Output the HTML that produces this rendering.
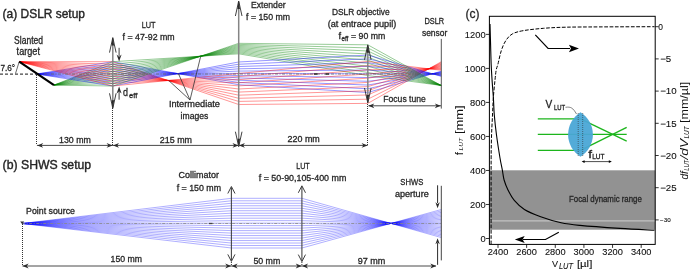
<!DOCTYPE html>
<html><head><meta charset="utf-8"><style>
html,body{margin:0;padding:0;background:#fff;}
body{width:691px;height:270px;overflow:hidden;}
svg{display:block;will-change:transform;}
text{font-family:"Liberation Sans",sans-serif;}
</style></head><body>
<svg width="691" height="270" viewBox="0 0 691 270">
<polyline points="36.7,74 112.8,61.7 238.7,84.75 367.8,92.52 441.3,71.2" fill="none" stroke="#0000ff" stroke-width="0.75" stroke-opacity="0.55"/>
<polyline points="19.2,61.7 112.8,61.7 238.7,104.5 367.8,103.39 441.3,61.7" fill="none" stroke="#ff0000" stroke-width="0.75" stroke-opacity="0.55"/>
<polyline points="54,85.1 112.8,61.7 238.7,53.82 367.8,75.52 441.3,85.5" fill="none" stroke="#008000" stroke-width="0.75" stroke-opacity="0.55"/>
<polyline points="36.7,74 112.8,64.13 238.7,82.47 367.8,88.78 441.3,71.72" fill="none" stroke="#0000ff" stroke-width="0.75" stroke-opacity="0.55"/>
<polyline points="19.2,61.7 112.8,64.13 238.7,101.4 367.8,99.19 441.3,62.56" fill="none" stroke="#ff0000" stroke-width="0.75" stroke-opacity="0.55"/>
<polyline points="54,85.1 112.8,64.13 238.7,52.77 367.8,72.45 441.3,85.5" fill="none" stroke="#008000" stroke-width="0.75" stroke-opacity="0.55"/>
<polyline points="36.7,74 112.8,66.56 238.7,80.2 367.8,85.04 441.3,72.24" fill="none" stroke="#0000ff" stroke-width="0.75" stroke-opacity="0.55"/>
<polyline points="19.2,61.7 112.8,66.56 238.7,98.3 367.8,94.99 441.3,63.42" fill="none" stroke="#ff0000" stroke-width="0.75" stroke-opacity="0.55"/>
<polyline points="54,85.1 112.8,66.56 238.7,51.72 367.8,69.38 441.3,85.5" fill="none" stroke="#008000" stroke-width="0.75" stroke-opacity="0.55"/>
<polyline points="36.7,74 112.8,68.99 238.7,77.92 367.8,81.29 441.3,72.76" fill="none" stroke="#0000ff" stroke-width="0.75" stroke-opacity="0.55"/>
<polyline points="19.2,61.7 112.8,68.99 238.7,95.19 367.8,90.79 441.3,64.28" fill="none" stroke="#ff0000" stroke-width="0.75" stroke-opacity="0.55"/>
<polyline points="54,85.1 112.8,68.99 238.7,50.67 367.8,66.31 441.3,85.5" fill="none" stroke="#008000" stroke-width="0.75" stroke-opacity="0.55"/>
<polyline points="36.7,74 112.8,71.42 238.7,75.64 367.8,77.55 441.3,73.28" fill="none" stroke="#0000ff" stroke-width="0.75" stroke-opacity="0.55"/>
<polyline points="19.2,61.7 112.8,71.42 238.7,92.09 367.8,86.6 441.3,65.14" fill="none" stroke="#ff0000" stroke-width="0.75" stroke-opacity="0.55"/>
<polyline points="54,85.1 112.8,71.42 238.7,49.62 367.8,63.24 441.3,85.5" fill="none" stroke="#008000" stroke-width="0.75" stroke-opacity="0.55"/>
<polyline points="36.7,74 112.8,73.85 238.7,73.37 367.8,73.8 441.3,73.8" fill="none" stroke="#0000ff" stroke-width="0.75" stroke-opacity="0.55"/>
<polyline points="19.2,61.7 112.8,73.85 238.7,88.99 367.8,82.4 441.3,66" fill="none" stroke="#ff0000" stroke-width="0.75" stroke-opacity="0.55"/>
<polyline points="54,85.1 112.8,73.85 238.7,48.57 367.8,60.17 441.3,85.5" fill="none" stroke="#008000" stroke-width="0.75" stroke-opacity="0.55"/>
<polyline points="36.7,74 112.8,76.28 238.7,71.09 367.8,70.06 441.3,74.32" fill="none" stroke="#0000ff" stroke-width="0.75" stroke-opacity="0.55"/>
<polyline points="19.2,61.7 112.8,76.28 238.7,85.89 367.8,78.2 441.3,66.86" fill="none" stroke="#ff0000" stroke-width="0.75" stroke-opacity="0.55"/>
<polyline points="54,85.1 112.8,76.28 238.7,47.52 367.8,57.1 441.3,85.5" fill="none" stroke="#008000" stroke-width="0.75" stroke-opacity="0.55"/>
<polyline points="36.7,74 112.8,78.71 238.7,68.81 367.8,66.32 441.3,74.84" fill="none" stroke="#0000ff" stroke-width="0.75" stroke-opacity="0.55"/>
<polyline points="19.2,61.7 112.8,78.71 238.7,82.79 367.8,74 441.3,67.72" fill="none" stroke="#ff0000" stroke-width="0.75" stroke-opacity="0.55"/>
<polyline points="54,85.1 112.8,78.71 238.7,46.47 367.8,54.03 441.3,85.5" fill="none" stroke="#008000" stroke-width="0.75" stroke-opacity="0.55"/>
<polyline points="36.7,74 112.8,81.14 238.7,66.54 367.8,62.57 441.3,75.36" fill="none" stroke="#0000ff" stroke-width="0.75" stroke-opacity="0.55"/>
<polyline points="19.2,61.7 112.8,81.14 238.7,79.68 367.8,69.8 441.3,68.58" fill="none" stroke="#ff0000" stroke-width="0.75" stroke-opacity="0.55"/>
<polyline points="54,85.1 112.8,81.14 238.7,45.42 367.8,50.96 441.3,85.5" fill="none" stroke="#008000" stroke-width="0.75" stroke-opacity="0.55"/>
<polyline points="36.7,74 112.8,83.57 238.7,64.26 367.8,58.83 441.3,75.88" fill="none" stroke="#0000ff" stroke-width="0.75" stroke-opacity="0.55"/>
<polyline points="19.2,61.7 112.8,83.57 238.7,76.58 367.8,65.61 441.3,69.44" fill="none" stroke="#ff0000" stroke-width="0.75" stroke-opacity="0.55"/>
<polyline points="54,85.1 112.8,83.57 238.7,44.37 367.8,47.89 441.3,85.5" fill="none" stroke="#008000" stroke-width="0.75" stroke-opacity="0.55"/>
<polyline points="36.7,74 112.8,86 238.7,61.98 367.8,55.09 441.3,76.4" fill="none" stroke="#0000ff" stroke-width="0.75" stroke-opacity="0.55"/>
<polyline points="19.2,61.7 112.8,86 238.7,73.48 367.8,61.41 441.3,70.3" fill="none" stroke="#ff0000" stroke-width="0.75" stroke-opacity="0.55"/>
<polyline points="54,85.1 112.8,86 238.7,43.32 367.8,44.82 441.3,85.5" fill="none" stroke="#008000" stroke-width="0.75" stroke-opacity="0.55"/>
<polyline points="22.2,223.5 231.4,198.3 301.9,198.3 441.3,237.57" fill="none" stroke="#0000ff" stroke-width="0.7" stroke-opacity="0.45"/>
<polyline points="22.2,223.5 231.4,200.79 301.9,200.79 441.3,236.17" fill="none" stroke="#0000ff" stroke-width="0.7" stroke-opacity="0.45"/>
<polyline points="22.2,223.5 231.4,203.27 301.9,203.27 441.3,234.76" fill="none" stroke="#0000ff" stroke-width="0.7" stroke-opacity="0.45"/>
<polyline points="22.2,223.5 231.4,205.75 301.9,205.75 441.3,233.36" fill="none" stroke="#0000ff" stroke-width="0.7" stroke-opacity="0.45"/>
<polyline points="22.2,223.5 231.4,208.24 301.9,208.24 441.3,231.96" fill="none" stroke="#0000ff" stroke-width="0.7" stroke-opacity="0.45"/>
<polyline points="22.2,223.5 231.4,210.73 301.9,210.73 441.3,230.56" fill="none" stroke="#0000ff" stroke-width="0.7" stroke-opacity="0.45"/>
<polyline points="22.2,223.5 231.4,213.21 301.9,213.21 441.3,229.15" fill="none" stroke="#0000ff" stroke-width="0.7" stroke-opacity="0.45"/>
<polyline points="22.2,223.5 231.4,215.69 301.9,215.69 441.3,227.75" fill="none" stroke="#0000ff" stroke-width="0.7" stroke-opacity="0.45"/>
<polyline points="22.2,223.5 231.4,218.18 301.9,218.18 441.3,226.35" fill="none" stroke="#0000ff" stroke-width="0.7" stroke-opacity="0.45"/>
<polyline points="22.2,223.5 231.4,220.67 301.9,220.67 441.3,224.94" fill="none" stroke="#0000ff" stroke-width="0.7" stroke-opacity="0.45"/>
<polyline points="22.2,223.5 231.4,223.15 301.9,223.15 441.3,223.54" fill="none" stroke="#0000ff" stroke-width="0.7" stroke-opacity="0.45"/>
<polyline points="22.2,223.5 231.4,225.63 301.9,225.63 441.3,222.14" fill="none" stroke="#0000ff" stroke-width="0.7" stroke-opacity="0.45"/>
<polyline points="22.2,223.5 231.4,228.12 301.9,228.12 441.3,220.74" fill="none" stroke="#0000ff" stroke-width="0.7" stroke-opacity="0.45"/>
<polyline points="22.2,223.5 231.4,230.61 301.9,230.61 441.3,219.33" fill="none" stroke="#0000ff" stroke-width="0.7" stroke-opacity="0.45"/>
<polyline points="22.2,223.5 231.4,233.09 301.9,233.09 441.3,217.93" fill="none" stroke="#0000ff" stroke-width="0.7" stroke-opacity="0.45"/>
<polyline points="22.2,223.5 231.4,235.57 301.9,235.57 441.3,216.53" fill="none" stroke="#0000ff" stroke-width="0.7" stroke-opacity="0.45"/>
<polyline points="22.2,223.5 231.4,238.06 301.9,238.06 441.3,215.12" fill="none" stroke="#0000ff" stroke-width="0.7" stroke-opacity="0.45"/>
<polyline points="22.2,223.5 231.4,240.55 301.9,240.55 441.3,213.72" fill="none" stroke="#0000ff" stroke-width="0.7" stroke-opacity="0.45"/>
<polyline points="22.2,223.5 231.4,243.03 301.9,243.03 441.3,212.32" fill="none" stroke="#0000ff" stroke-width="0.7" stroke-opacity="0.45"/>
<polyline points="22.2,223.5 231.4,245.51 301.9,245.51 441.3,210.92" fill="none" stroke="#0000ff" stroke-width="0.7" stroke-opacity="0.45"/>
<polyline points="22.2,223.5 231.4,248 301.9,248 441.3,209.51" fill="none" stroke="#0000ff" stroke-width="0.7" stroke-opacity="0.45"/>
<line x1="37" y1="74" x2="441" y2="74" stroke="#666" stroke-width="0.8" stroke-dasharray="3,1.5,1,1.5"/>
<line x1="314" y1="74" x2="317.5" y2="74" stroke="#333" stroke-width="1.6" />
<line x1="325.5" y1="74" x2="329" y2="74" stroke="#333" stroke-width="1.6" />
<line x1="0" y1="74.1" x2="36.7" y2="74.1" stroke="#444" stroke-width="1.2" stroke-dasharray="3,2"/>
<line x1="15.5" y1="73.5" x2="19.2" y2="61.7" stroke="#444" stroke-width="0.8" />
<line x1="19.2" y1="61.7" x2="54" y2="85.1" stroke="#000" stroke-width="2.2" />
<line x1="36.5" y1="75" x2="36.5" y2="145" stroke="#333" stroke-width="1" stroke-dasharray="1,1"/>
<line x1="112.5" y1="108" x2="112.5" y2="145" stroke="#333" stroke-width="1" stroke-dasharray="1,1"/>
<line x1="367.5" y1="104" x2="367.5" y2="145" stroke="#333" stroke-width="1" stroke-dasharray="1,1"/>
<line x1="112.8" y1="38.6" x2="112.8" y2="107.3" stroke="#858585" stroke-width="1.5" />
<polyline points="109.5,52.6 112.8,37.6 116.1,52.6" fill="none" stroke="#2a2a2a" stroke-width="0.9" />
<polyline points="109.5,93.3 112.8,108.3 116.1,93.3" fill="none" stroke="#2a2a2a" stroke-width="0.9" />
<polygon points="112.8,37.6 111.5,45.6 114.1,45.6" fill="#2a2a2a" />
<polygon points="112.8,108.3 111.5,100.3 114.1,100.3" fill="#2a2a2a" />
<line x1="238.7" y1="2" x2="238.7" y2="145.7" stroke="#858585" stroke-width="1.5" />
<polyline points="235.4,16 238.7,1 242,16" fill="none" stroke="#2a2a2a" stroke-width="0.9" />
<polyline points="235.4,131.7 238.7,146.7 242,131.7" fill="none" stroke="#2a2a2a" stroke-width="0.9" />
<polygon points="238.7,1 237.4,9 240,9" fill="#2a2a2a" />
<polygon points="238.7,146.7 237.4,138.7 240,138.7" fill="#2a2a2a" />
<line x1="367.8" y1="45.8" x2="367.8" y2="102" stroke="#858585" stroke-width="1.5" />
<polyline points="364.5,59.8 367.8,44.8 371.1,59.8" fill="none" stroke="#2a2a2a" stroke-width="0.9" />
<polyline points="364.5,88 367.8,103 371.1,88" fill="none" stroke="#2a2a2a" stroke-width="0.9" />
<polygon points="367.8,44.8 366.5,52.8 369.1,52.8" fill="#2a2a2a" />
<polygon points="367.8,103 366.5,95 369.1,95" fill="#2a2a2a" />
<line x1="441.3" y1="38.9" x2="441.3" y2="108.6" stroke="#555" stroke-width="1" />
<line x1="119.1" y1="47.8" x2="119.1" y2="56" stroke="#2a2a2a" stroke-width="0.9" />
<polygon points="119.1,61.6 116.6,54.6 119.1,56.7 121.6,54.6" fill="#2a2a2a" />
<line x1="119.1" y1="99.7" x2="119.1" y2="92" stroke="#2a2a2a" stroke-width="0.9" />
<polygon points="119.1,86.6 121.6,93.6 119.1,91.5 116.6,93.6" fill="#2a2a2a" />
<line x1="36.9" y1="145.4" x2="367.6" y2="145.4" stroke="#4a4a4a" stroke-width="1" />
<polygon points="37.2,145.4 43.2,143 41.4,145.4 43.2,147.8" fill="#2a2a2a" />
<polygon points="112.6,145.4 106.6,147.8 108.4,145.4 106.6,143" fill="#2a2a2a" />
<polygon points="113,145.4 119,143 117.2,145.4 119,147.8" fill="#2a2a2a" />
<polygon points="238.5,145.4 232.5,147.8 234.3,145.4 232.5,143" fill="#2a2a2a" />
<polygon points="238.9,145.4 244.9,143 243.1,145.4 244.9,147.8" fill="#2a2a2a" />
<polygon points="367.6,145.4 361.6,147.8 363.4,145.4 361.6,143" fill="#2a2a2a" />
<line x1="368.5" y1="105.8" x2="441" y2="105.8" stroke="#4a4a4a" stroke-width="1" />
<polygon points="368.3,105.8 374.3,103.4 372.5,105.8 374.3,108.2" fill="#2a2a2a" />
<polygon points="440.8,105.8 434.8,108.2 436.6,105.8 434.8,103.4" fill="#2a2a2a" />
<line x1="190" y1="100" x2="168.5" y2="80.3" stroke="#333" stroke-width="0.8" />
<line x1="190" y1="100" x2="178.5" y2="73.8" stroke="#333" stroke-width="0.8" />
<line x1="190" y1="100" x2="200.5" y2="57" stroke="#333" stroke-width="0.8" />
<line x1="22.2" y1="223.5" x2="441.3" y2="223.5" stroke="#888" stroke-width="0.8" stroke-dasharray="3,1.5,1,1.5"/>
<line x1="209" y1="223.5" x2="212.5" y2="223.5" stroke="#444" stroke-width="1.3" />
<polygon points="20.2,221.6 24.2,221.6 22.2,224.2" fill="#333" />
<line x1="22.5" y1="224" x2="22.5" y2="266" stroke="#333" stroke-width="1" stroke-dasharray="1,1"/>
<line x1="231.4" y1="187.5" x2="231.4" y2="260.4" stroke="#444" stroke-width="1.1" />
<polyline points="227.8,193.5 231.4,186.5 235,193.5" fill="none" stroke="#2a2a2a" stroke-width="0.9" />
<polyline points="227.8,254.4 231.4,261.4 235,254.4" fill="none" stroke="#2a2a2a" stroke-width="0.9" />
<line x1="301.9" y1="186.8" x2="301.9" y2="260.6" stroke="#444" stroke-width="1.1" />
<polyline points="298.3,192.8 301.9,185.8 305.5,192.8" fill="none" stroke="#2a2a2a" stroke-width="0.9" />
<polyline points="298.3,254.6 301.9,261.6 305.5,254.6" fill="none" stroke="#2a2a2a" stroke-width="0.9" />
<line x1="437.6" y1="185.3" x2="437.6" y2="203" stroke="#2a2a2a" stroke-width="1" />
<polygon points="437.6,208.3 435.4,202.3 437.6,204.1 439.8,202.3" fill="#2a2a2a" />
<line x1="437.6" y1="264.8" x2="437.6" y2="243" stroke="#2a2a2a" stroke-width="1" />
<polygon points="437.6,238.3 439.8,244.3 437.6,242.5 435.4,244.3" fill="#2a2a2a" />
<line x1="441.3" y1="185.8" x2="441.3" y2="260.4" stroke="#444" stroke-width="1" />
<line x1="22.4" y1="266" x2="436" y2="266" stroke="#4a4a4a" stroke-width="1" />
<polygon points="22.6,266 28.6,263.6 26.8,266 28.6,268.4" fill="#2a2a2a" />
<polygon points="231.2,266 225.2,268.4 227,266 225.2,263.6" fill="#2a2a2a" />
<polygon points="231.6,266 237.6,263.6 235.8,266 237.6,268.4" fill="#2a2a2a" />
<polygon points="301.7,266 295.7,268.4 297.5,266 295.7,263.6" fill="#2a2a2a" />
<polygon points="302.1,266 308.1,263.6 306.3,266 308.1,268.4" fill="#2a2a2a" />
<polygon points="436.3,266 430.3,268.4 432.1,266 430.3,263.6" fill="#2a2a2a" />
<line x1="231.4" y1="262" x2="231.4" y2="266" stroke="#333" stroke-width="1" stroke-dasharray="1,1"/>
<line x1="301.9" y1="262" x2="301.9" y2="266" stroke="#333" stroke-width="1" stroke-dasharray="1,1"/>
<rect x="489.4" y="170.3" width="165.80000000000007" height="59.39999999999998" fill="#929292"/>
<line x1="489.4" y1="220.8" x2="655.2" y2="220.8" stroke="#c2c2c2" stroke-width="1.3" />
<path d="M490,24 C490.1,27.5 490.4,38.17 490.6,45 C490.8,51.83 490.93,58.83 491.2,65 C491.47,71.17 491.83,76.5 492.2,82 C492.57,87.5 493.05,92.5 493.4,98 C493.75,103.5 493.78,108.83 494.3,115 C494.82,121.17 495.55,127.83 496.5,135 C497.45,142.17 499.02,152.1 500,158 C500.98,163.9 501.72,166.73 502.4,170.4 C503.08,174.07 503.15,176.7 504.1,180 C505.05,183.3 506.4,186.8 508.1,190.2 C509.8,193.6 511.58,197.18 514.3,200.4 C517.02,203.62 520,206.78 524.4,209.5 C528.8,212.22 534.58,214.48 540.7,216.7 C546.82,218.92 554.55,221.35 561.1,222.8 C567.65,224.25 570.18,224.47 580,225.4 C589.82,226.33 607.58,227.58 620,228.4 C632.42,229.22 648.75,229.98 654.5,230.3" fill="none" stroke="#000" stroke-width="1.1"/>
<path d="M491.1,244 C491.1,231.67 491.05,187.33 491.1,170 C491.15,152.67 491.17,149.17 491.4,140 C491.63,130.83 492.17,122.17 492.5,115 C492.83,107.83 492.98,102.83 493.4,97 C493.82,91.17 494.53,84.5 495,80 C495.47,75.5 495.7,72.68 496.2,70 C496.7,67.32 497.15,67.13 498,63.9 C498.85,60.67 500,54.48 501.3,50.6 C502.6,46.72 503.95,43.38 505.8,40.6 C507.65,37.82 509.43,35.57 512.4,33.9 C515.37,32.23 518.4,31.53 523.6,30.6 C528.8,29.67 536.57,28.87 543.6,28.3 C550.63,27.73 556.4,27.43 565.8,27.2 C575.2,26.97 585.22,26.98 600,26.9 C614.78,26.82 645.42,26.73 654.5,26.7" fill="none" stroke="#000" stroke-width="1.0" stroke-dasharray="3.7,1.6"/>
<rect x="489.4" y="16.3" width="165.80000000000007" height="228.1" fill="none" stroke="#000" stroke-width="1"/>
<line x1="485.9" y1="238.5" x2="489.4" y2="238.5" stroke="#000" stroke-width="0.8" />
<line x1="485.9" y1="204.48" x2="489.4" y2="204.48" stroke="#000" stroke-width="0.8" />
<line x1="485.9" y1="170.46" x2="489.4" y2="170.46" stroke="#000" stroke-width="0.8" />
<line x1="485.9" y1="136.44" x2="489.4" y2="136.44" stroke="#000" stroke-width="0.8" />
<line x1="485.9" y1="102.42" x2="489.4" y2="102.42" stroke="#000" stroke-width="0.8" />
<line x1="485.9" y1="68.4" x2="489.4" y2="68.4" stroke="#000" stroke-width="0.8" />
<line x1="485.9" y1="34.38" x2="489.4" y2="34.38" stroke="#000" stroke-width="0.8" />
<line x1="655.2" y1="26.7" x2="658.7" y2="26.7" stroke="#000" stroke-width="0.8" />
<line x1="655.2" y1="58.9" x2="658.7" y2="58.9" stroke="#000" stroke-width="0.8" />
<line x1="655.2" y1="91.1" x2="658.7" y2="91.1" stroke="#000" stroke-width="0.8" />
<line x1="655.2" y1="123.3" x2="658.7" y2="123.3" stroke="#000" stroke-width="0.8" />
<line x1="655.2" y1="155.5" x2="658.7" y2="155.5" stroke="#000" stroke-width="0.8" />
<line x1="655.2" y1="187.7" x2="658.7" y2="187.7" stroke="#000" stroke-width="0.8" />
<line x1="655.2" y1="219.9" x2="658.7" y2="219.9" stroke="#000" stroke-width="0.8" />
<line x1="498" y1="244.4" x2="498" y2="247.9" stroke="#000" stroke-width="0.8" />
<line x1="526.64" y1="244.4" x2="526.64" y2="247.9" stroke="#000" stroke-width="0.8" />
<line x1="555.28" y1="244.4" x2="555.28" y2="247.9" stroke="#000" stroke-width="0.8" />
<line x1="583.92" y1="244.4" x2="583.92" y2="247.9" stroke="#000" stroke-width="0.8" />
<line x1="612.56" y1="244.4" x2="612.56" y2="247.9" stroke="#000" stroke-width="0.8" />
<line x1="641.2" y1="244.4" x2="641.2" y2="247.9" stroke="#000" stroke-width="0.8" />
<polyline points="535.3,34.8 548.1,48.5 570,48.5" fill="none" stroke="#000" stroke-width="1.2" />
<polygon points="579,48.5 568.9,44.7 571,48.5 568.9,52.3" fill="#000" />
<polyline points="558.8,232.2 545.5,239.5 523,239.5" fill="none" stroke="#000" stroke-width="1.2" />
<polygon points="514.8,239.5 524.7,235.9 522.6,239.5 524.7,243.1" fill="#000" />
<line x1="537.8" y1="118.9" x2="580.5" y2="118.9" stroke="#1cb51c" stroke-width="1.3" />
<line x1="537.8" y1="134.4" x2="626.7" y2="134.4" stroke="#1cb51c" stroke-width="1.3" />
<line x1="537.8" y1="150.4" x2="580.5" y2="150.4" stroke="#1cb51c" stroke-width="1.3" />
<line x1="580.5" y1="118.9" x2="626.7" y2="141.1" stroke="#1cb51c" stroke-width="1.3" />
<line x1="580.5" y1="150.4" x2="626.7" y2="127.3" stroke="#1cb51c" stroke-width="1.3" />
<path d="M580.5,112.2 A26.25,26.25 0 0 1 580.5,156.8 A26.25,26.25 0 0 1 580.5,112.2 Z" fill="#4aa6d6" fill-opacity="0.95"/>
<line x1="578.2" y1="113" x2="578.2" y2="156" stroke="#333" stroke-width="0.6" stroke-dasharray="1,1"/>
<line x1="582.7" y1="113" x2="582.7" y2="156" stroke="#333" stroke-width="0.6" stroke-dasharray="1,1"/>
<path d="M565.5,107.3 C571,106.5 573,108 576.5,114" fill="none" stroke="#333" stroke-width="0.6"/>
<line x1="583" y1="161.6" x2="610.5" y2="161.6" stroke="#000" stroke-width="0.7" />
<polygon points="581.6,161.6 584.6,160.3 584.6,162.9" fill="#000" />
<polygon points="611.8,161.6 608.8,160.3 608.8,162.9" fill="#000" />
<text x="2.6" y="17.6" font-size="12.52" textLength="82.4" lengthAdjust="spacingAndGlyphs" fill="#262626" stroke="#262626" stroke-width="0.4" >(a) DSLR setup</text>
<text x="14.1" y="43.5" font-size="10.06" textLength="28.9" lengthAdjust="spacingAndGlyphs" fill="#262626" stroke="#262626" stroke-width="0.3" >Slanted</text>
<text x="16.6" y="55.4" font-size="10.06" textLength="23.4" lengthAdjust="spacingAndGlyphs" fill="#262626" stroke="#262626" stroke-width="0.3" >target</text>
<text x="141.7" y="27.7" font-size="9.2" textLength="13.9" lengthAdjust="spacingAndGlyphs" fill="#262626" stroke="#262626" stroke-width="0.3" >LUT</text>
<text x="122.6" y="39.9" font-size="9.2" textLength="52.1" lengthAdjust="spacingAndGlyphs" fill="#262626" stroke="#262626" stroke-width="0.3" >f = 47-92 mm</text>
<text x="123" y="96" font-size="11.34" textLength="5" lengthAdjust="spacingAndGlyphs" fill="#262626" stroke="#262626" stroke-width="0.3" >d</text>
<text x="129" y="98.3" font-size="7.81" textLength="8.3" lengthAdjust="spacingAndGlyphs" fill="#262626" stroke="#262626" stroke-width="0.3" >eff</text>
<text x="168.9" y="106.7" font-size="9.2" textLength="51.1" lengthAdjust="spacingAndGlyphs" fill="#262626" stroke="#262626" stroke-width="0.3" >Intermediate</text>
<text x="180.6" y="118.9" font-size="9.2" textLength="27.7" lengthAdjust="spacingAndGlyphs" fill="#262626" stroke="#262626" stroke-width="0.3" >images</text>
<text x="250.9" y="7.8" font-size="9.2" textLength="34.7" lengthAdjust="spacingAndGlyphs" fill="#262626" stroke="#262626" stroke-width="0.3" >Extender</text>
<text x="246.1" y="20" font-size="9.2" textLength="43.9" lengthAdjust="spacingAndGlyphs" fill="#262626" stroke="#262626" stroke-width="0.3" >f = 150 mm</text>
<text x="331.9" y="14.6" font-size="9.2" textLength="57.7" lengthAdjust="spacingAndGlyphs" fill="#262626" stroke="#262626" stroke-width="0.3" >DSLR objective</text>
<text x="327.7" y="27.2" font-size="9.2" textLength="68.6" lengthAdjust="spacingAndGlyphs" fill="#262626" stroke="#262626" stroke-width="0.3" >(at entrace pupil)</text>
<text x="338.6" y="38.9" font-size="9.63" textLength="2.6" lengthAdjust="spacingAndGlyphs" fill="#262626" stroke="#262626" stroke-width="0.3" >f</text>
<text x="341.5" y="40.7" font-size="7.06" textLength="6.8" lengthAdjust="spacingAndGlyphs" fill="#262626" stroke="#262626" stroke-width="0.3" >eff</text>
<text x="351" y="38.9" font-size="9.2" textLength="34.2" lengthAdjust="spacingAndGlyphs" fill="#262626" stroke="#262626" stroke-width="0.3" >= 90 mm</text>
<text x="424.4" y="23.6" font-size="9.42" textLength="19.7" lengthAdjust="spacingAndGlyphs" fill="#262626" stroke="#262626" stroke-width="0.3" >DSLR</text>
<text x="421.9" y="35.5" font-size="9.42" textLength="25.5" lengthAdjust="spacingAndGlyphs" fill="#262626" stroke="#262626" stroke-width="0.3" >sensor</text>
<text x="0.4" y="71.4" font-size="9.63" textLength="14.7" lengthAdjust="spacingAndGlyphs" fill="#262626" stroke="#262626" stroke-width="0.3" >7.6°</text>
<text x="383.3" y="101.9" font-size="9.63" textLength="42.5" lengthAdjust="spacingAndGlyphs" fill="#262626" stroke="#262626" stroke-width="0.3" >Focus tune</text>
<text x="59" y="142.8" font-size="8.77" textLength="31.8" lengthAdjust="spacingAndGlyphs" fill="#262626" stroke="#262626" stroke-width="0.3" >130 mm</text>
<text x="159.8" y="142.8" font-size="8.77" textLength="32.2" lengthAdjust="spacingAndGlyphs" fill="#262626" stroke="#262626" stroke-width="0.3" >215 mm</text>
<text x="287.5" y="142.1" font-size="8.77" textLength="32.3" lengthAdjust="spacingAndGlyphs" fill="#262626" stroke="#262626" stroke-width="0.3" >220 mm</text>
<text x="2.6" y="168.8" font-size="12.52" textLength="88.6" lengthAdjust="spacingAndGlyphs" fill="#262626" stroke="#262626" stroke-width="0.4" >(b) SHWS setup</text>
<text x="26.1" y="213.9" font-size="8.99" textLength="48.9" lengthAdjust="spacingAndGlyphs" fill="#262626" stroke="#262626" stroke-width="0.3" >Point source</text>
<text x="178.6" y="178" font-size="8.99" textLength="40.3" lengthAdjust="spacingAndGlyphs" fill="#262626" stroke="#262626" stroke-width="0.3" >Collimator</text>
<text x="176.7" y="190.5" font-size="8.99" textLength="44.4" lengthAdjust="spacingAndGlyphs" fill="#262626" stroke="#262626" stroke-width="0.3" >f = 150 mm</text>
<text x="296.2" y="169" font-size="8.99" textLength="13.5" lengthAdjust="spacingAndGlyphs" fill="#262626" stroke="#262626" stroke-width="0.3" >LUT</text>
<text x="258.8" y="181.3" font-size="8.99" textLength="87.5" lengthAdjust="spacingAndGlyphs" fill="#262626" stroke="#262626" stroke-width="0.3" >f = 50-90,105-400 mm</text>
<text x="400.3" y="185" font-size="8.99" textLength="23" lengthAdjust="spacingAndGlyphs" fill="#262626" stroke="#262626" stroke-width="0.3" >SHWS</text>
<text x="395" y="196.7" font-size="8.99" textLength="33.7" lengthAdjust="spacingAndGlyphs" fill="#262626" stroke="#262626" stroke-width="0.3" >aperture</text>
<text x="110.6" y="262.2" font-size="8.99" textLength="31.4" lengthAdjust="spacingAndGlyphs" fill="#262626" stroke="#262626" stroke-width="0.3" >150 mm</text>
<text x="253.4" y="263.7" font-size="8.99" textLength="26.9" lengthAdjust="spacingAndGlyphs" fill="#262626" stroke="#262626" stroke-width="0.3" >50 mm</text>
<text x="357.8" y="263.6" font-size="8.99" textLength="27.6" lengthAdjust="spacingAndGlyphs" fill="#262626" stroke="#262626" stroke-width="0.3" >97 mm</text>
<text x="465.6" y="17.8" font-size="12.8" textLength="14" lengthAdjust="spacingAndGlyphs" fill="#262626" stroke="#262626" stroke-width="0.3" >(c)</text>
<text x="480.4" y="241.7" font-size="9" textLength="5.2" lengthAdjust="spacingAndGlyphs" fill="#111" stroke="#111" stroke-width="0.1" >0</text>
<text x="470" y="207.68" font-size="9" textLength="15.6" lengthAdjust="spacingAndGlyphs" fill="#111" stroke="#111" stroke-width="0.1" >200</text>
<text x="470" y="173.66" font-size="9" textLength="15.6" lengthAdjust="spacingAndGlyphs" fill="#111" stroke="#111" stroke-width="0.1" >400</text>
<text x="470" y="139.64" font-size="9" textLength="15.6" lengthAdjust="spacingAndGlyphs" fill="#111" stroke="#111" stroke-width="0.1" >600</text>
<text x="470" y="105.62" font-size="9" textLength="15.6" lengthAdjust="spacingAndGlyphs" fill="#111" stroke="#111" stroke-width="0.1" >800</text>
<text x="464.8" y="71.6" font-size="9" textLength="20.8" lengthAdjust="spacingAndGlyphs" fill="#111" stroke="#111" stroke-width="0.1" >1000</text>
<text x="464.8" y="37.58" font-size="9" textLength="20.8" lengthAdjust="spacingAndGlyphs" fill="#111" stroke="#111" stroke-width="0.1" >1200</text>
<text x="658.3" y="29.9" font-size="9" textLength="4.7" lengthAdjust="spacingAndGlyphs" fill="#111" stroke="#111" stroke-width="0.1" >0</text>
<text x="660.2" y="62.1" font-size="9" textLength="11.1" lengthAdjust="spacingAndGlyphs" fill="#111" stroke="#111" stroke-width="0.1" >−5</text>
<text x="660.2" y="94.3" font-size="9" textLength="16.5" lengthAdjust="spacingAndGlyphs" fill="#111" stroke="#111" stroke-width="0.1" >−10</text>
<text x="660.2" y="126.5" font-size="9" textLength="16.5" lengthAdjust="spacingAndGlyphs" fill="#111" stroke="#111" stroke-width="0.1" >−15</text>
<text x="660.2" y="158.7" font-size="9" textLength="16.5" lengthAdjust="spacingAndGlyphs" fill="#111" stroke="#111" stroke-width="0.1" >−20</text>
<text x="660.2" y="190.9" font-size="9" textLength="16.5" lengthAdjust="spacingAndGlyphs" fill="#111" stroke="#111" stroke-width="0.1" >−25</text>
<text x="660" y="221.6" font-size="5" textLength="10.7" lengthAdjust="spacingAndGlyphs" fill="#111" stroke="#111" stroke-width="0.1" >−30</text>
<text x="487.7" y="255.4" font-size="9" textLength="20.6" lengthAdjust="spacingAndGlyphs" fill="#111" stroke="#111" stroke-width="0.1" >2400</text>
<text x="516.34" y="255.4" font-size="9" textLength="20.6" lengthAdjust="spacingAndGlyphs" fill="#111" stroke="#111" stroke-width="0.1" >2600</text>
<text x="544.98" y="255.4" font-size="9" textLength="20.6" lengthAdjust="spacingAndGlyphs" fill="#111" stroke="#111" stroke-width="0.1" >2800</text>
<text x="573.62" y="255.4" font-size="9" textLength="20.6" lengthAdjust="spacingAndGlyphs" fill="#111" stroke="#111" stroke-width="0.1" >3000</text>
<text x="602.26" y="255.4" font-size="9" textLength="20.6" lengthAdjust="spacingAndGlyphs" fill="#111" stroke="#111" stroke-width="0.1" >3200</text>
<text x="630.9" y="255.4" font-size="9" textLength="20.6" lengthAdjust="spacingAndGlyphs" fill="#111" stroke="#111" stroke-width="0.1" >3400</text>
<text x="552" y="266.9" font-size="9.9" textLength="6.1" lengthAdjust="spacingAndGlyphs" fill="#111" stroke="#111" stroke-width="0.1" >V</text>
<text x="558.9" y="268.7" font-size="8.6" textLength="14.1" lengthAdjust="spacingAndGlyphs" fill="#111" stroke="#111" stroke-width="0.1" font-style="italic">LUT</text>
<text x="576.9" y="267.4" font-size="9.9" textLength="15.4" lengthAdjust="spacingAndGlyphs" fill="#111" stroke="#111" stroke-width="0.1" >[µl]</text>
<text x="569" y="202.4" font-size="9" textLength="72.8" lengthAdjust="spacingAndGlyphs" fill="#262626" stroke="#262626" stroke-width="0.3" >Focal dynamic range</text>
<text x="545.5" y="107.6" font-size="11.5" textLength="6.7" lengthAdjust="spacingAndGlyphs" fill="#222" stroke="#222" stroke-width="0.3" >V</text>
<text x="554" y="109.8" font-size="7" textLength="11.2" lengthAdjust="spacingAndGlyphs" fill="#222" stroke="#222" stroke-width="0.3" >LUT</text>
<text x="588.2" y="157.8" font-size="11.5" textLength="3.8" lengthAdjust="spacingAndGlyphs" fill="#222" stroke="#222" stroke-width="0.3" >f</text>
<text x="592.2" y="159.3" font-size="7" textLength="12.2" lengthAdjust="spacingAndGlyphs" fill="#222" stroke="#222" stroke-width="0.3" >LUT</text>
<g transform="translate(463.1,155.5) rotate(-90)"><text x="0.3" y="0" font-size="10.6" textLength="3.3" lengthAdjust="spacingAndGlyphs" fill="#111">f</text><text x="5" y="0.3" font-size="6" font-style="italic" textLength="12.6" lengthAdjust="spacingAndGlyphs" fill="#111">LUT</text><text x="21.5" y="0" font-size="10.6" textLength="28.7" lengthAdjust="spacingAndGlyphs" fill="#111">[mm]</text></g>
<g transform="translate(688.4,179.7) rotate(-90)"><text x="0.2" y="0" font-size="10.5" font-style="italic" textLength="8.4" lengthAdjust="spacingAndGlyphs" fill="#111">df</text><text x="8.9" y="0.6" font-size="7.6" font-style="italic" textLength="10.9" lengthAdjust="spacingAndGlyphs" fill="#111">LUT</text><text x="20.2" y="0" font-size="10.5" font-style="italic" textLength="20.6" lengthAdjust="spacingAndGlyphs" fill="#111">/dV</text><text x="41.1" y="0.6" font-size="7.6" font-style="italic" textLength="12.3" lengthAdjust="spacingAndGlyphs" fill="#111">LUT</text><text x="56.7" y="0" font-size="10.5" textLength="41.3" lengthAdjust="spacingAndGlyphs" fill="#111">[mm/µl]</text></g>
</svg>
</body></html>
